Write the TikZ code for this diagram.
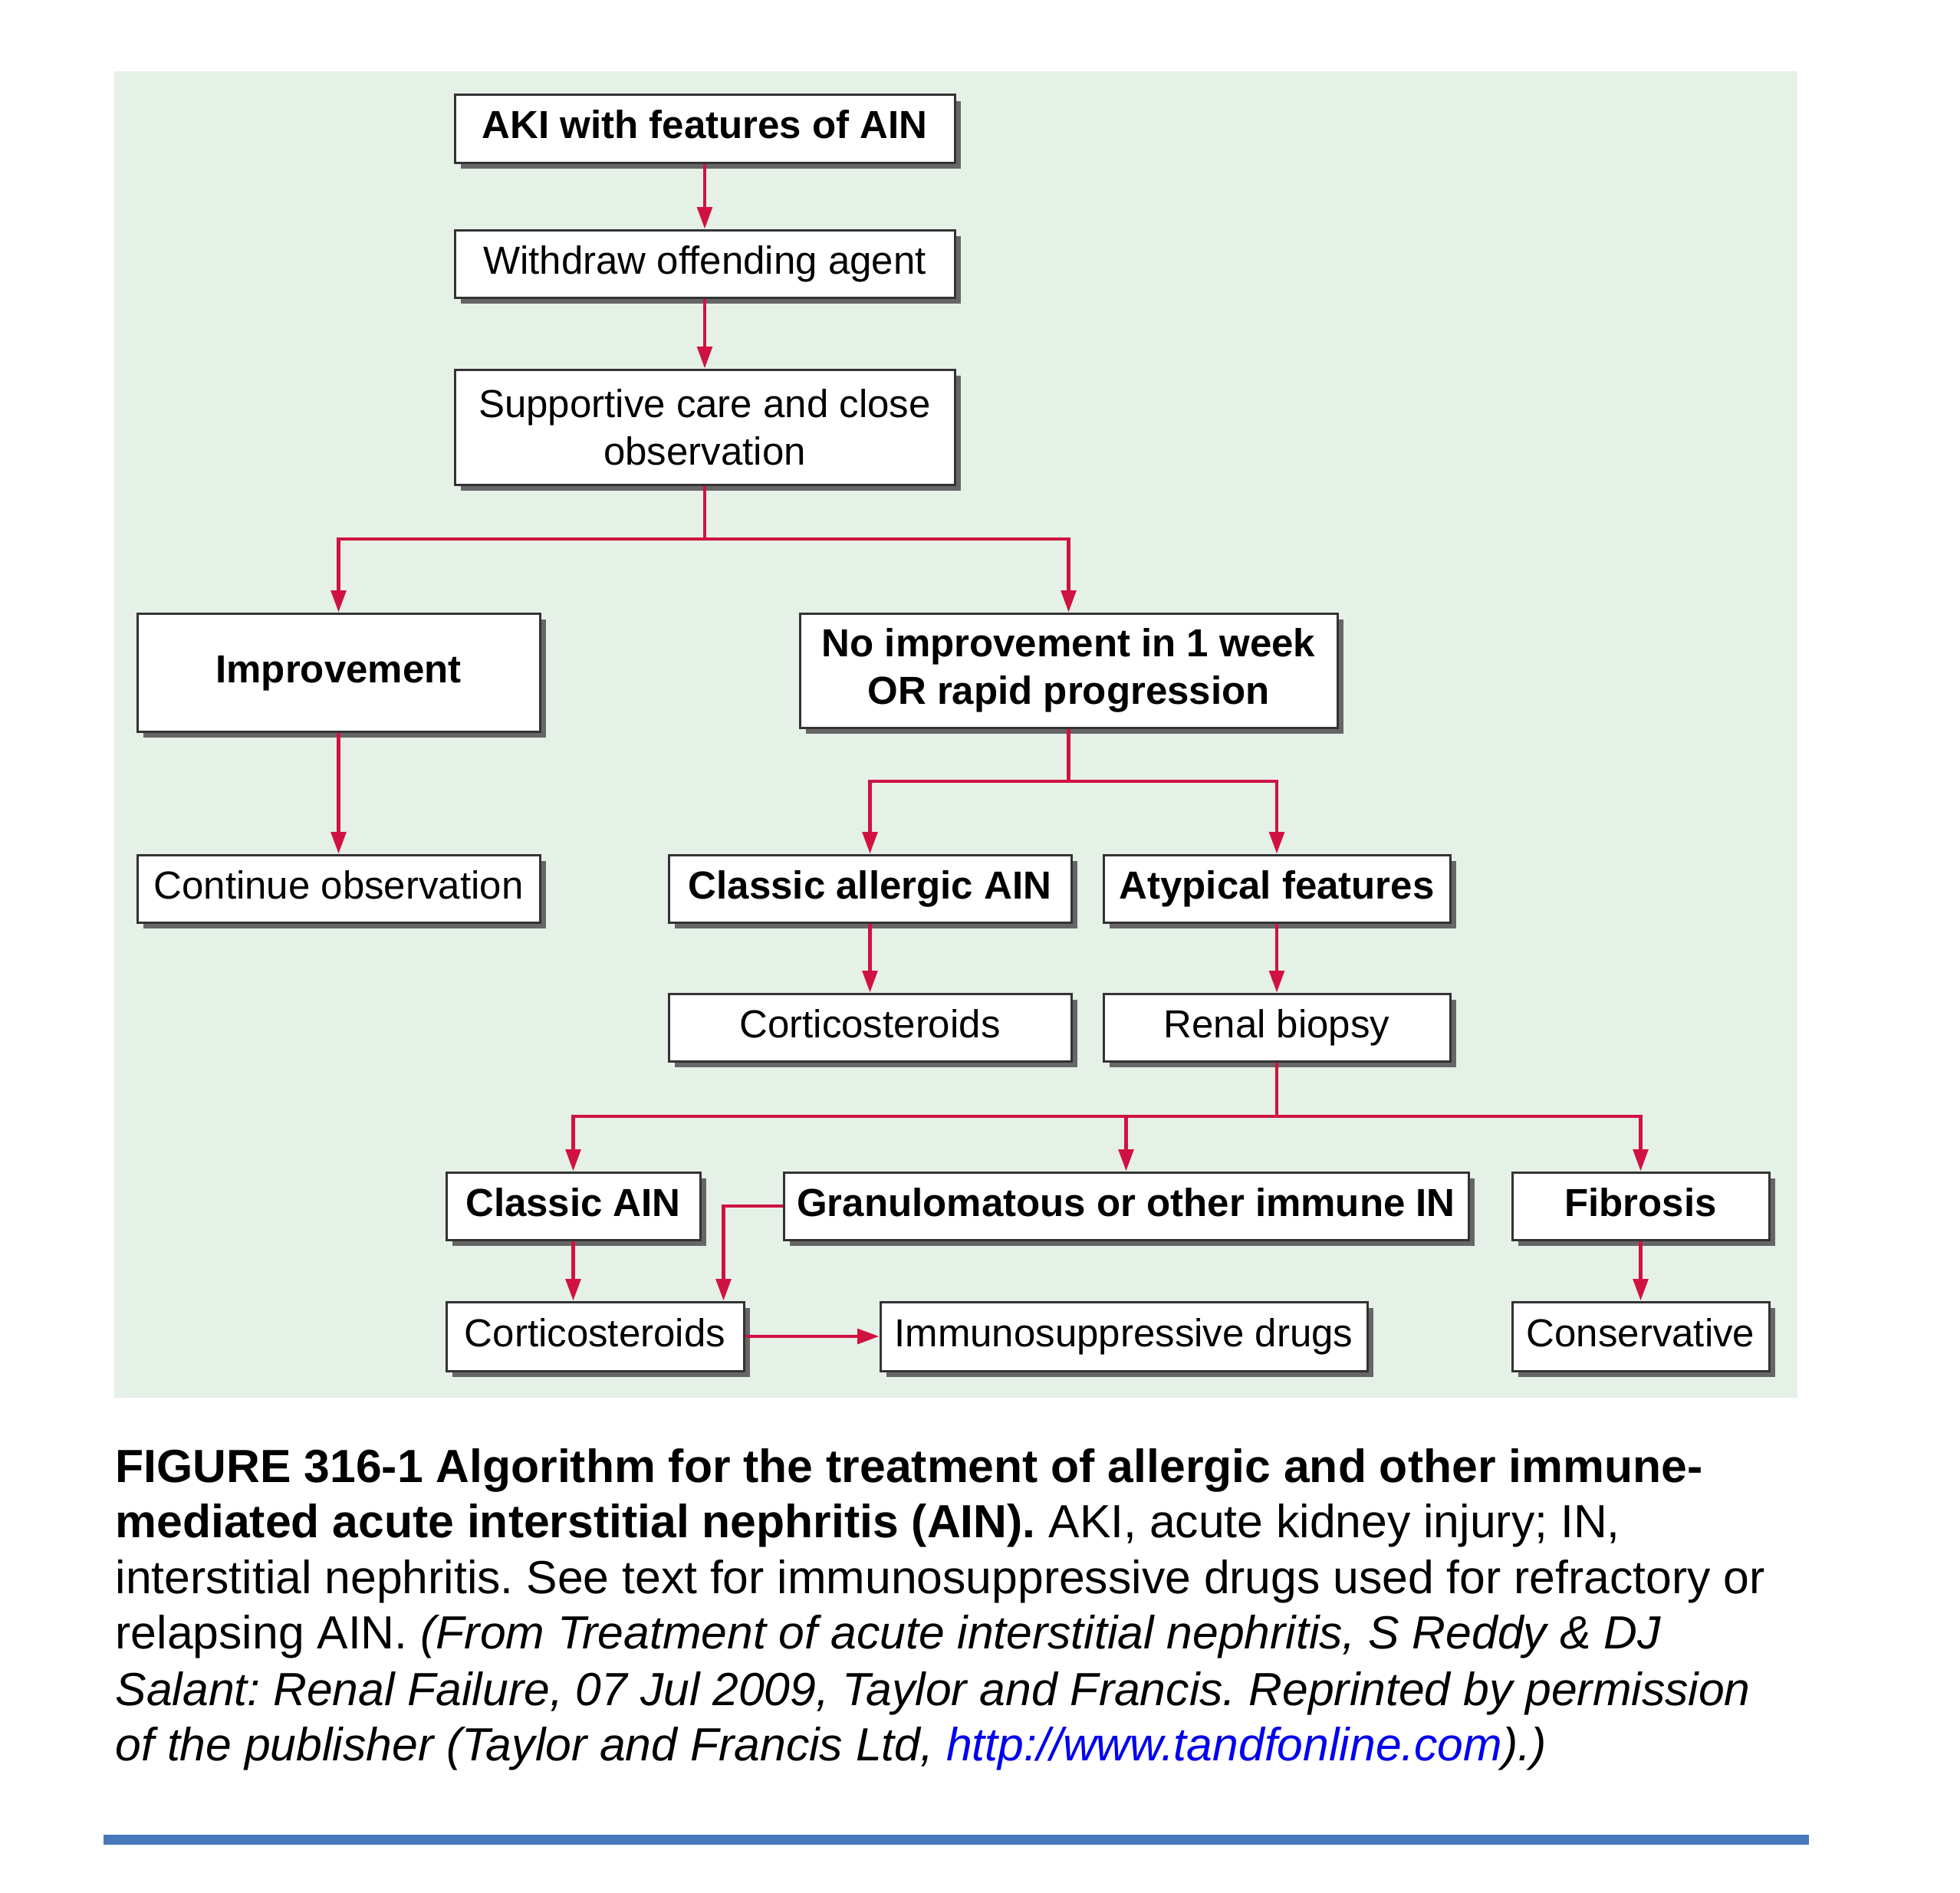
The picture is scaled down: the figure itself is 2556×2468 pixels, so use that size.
\documentclass[tikz,border=0pt]{standalone}
\usepackage{fontspec}
\setmainfont{Liberation Sans}
\usetikzlibrary{arrows.meta,shadows,calc}
\definecolor{bgreen}{RGB}{229,240,231}
\definecolor{arrred}{RGB}{208,18,66}
\definecolor{barblue}{RGB}{70,120,186}
\definecolor{linkblue}{RGB}{0,0,238}
\frenchspacing

\begin{document}
\begin{tikzpicture}[x=0.3pt,y=-0.3pt,
 basebox/.style={draw=black!80, line width=0.9pt, fill=white, inner sep=0pt, align=center,
   drop shadow={shadow xshift=2.3pt, shadow yshift=-2.3pt, fill=black!60, opacity=1}},
 sl/.style={text height=11pt, text depth=3.2pt},
 box/.style={basebox, sl, font=\fontsize{15.3}{18.6}\selectfont},
 bbox/.style={basebox, sl, font=\fontsize{15.3}{18.6}\selectfont\bfseries},
 mbox/.style={basebox, font=\fontsize{15.3}{18.6}\selectfont},
 mbbox/.style={basebox, font=\fontsize{15.3}{18.6}\selectfont\bfseries},
 sz/.style 2 args={minimum width=#1*0.3pt, minimum height=#2*0.3pt},
 conn/.style={draw=arrred, line width=1.3pt},
 arr/.style={conn, -{Triangle[length=8.5pt,width=5.8pt]}},
 captext/.style={anchor=base west, inner sep=0pt, font=\fontsize{18.2}{21.8}\selectfont}
]
\useasboundingbox (0,0) rectangle (2556,2468);
\fill[bgreen] (149,93) rectangle (2344,1823);

% boxes
\node[bbox, sz={652}{88}] (aki) at (919,168) {AKI with features of AIN};
\node[box, sz={652}{88}] (withdraw) at (919,344) {Withdraw offending agent};
\node[mbox, sz={652}{150}] (support) at (919,557) {Supportive care and close\\observation};
\node[bbox, sz={525}{154}] (improve) at (441.5,877) {Improvement};
\node[mbbox, sz={701}{149}] (noimp) at (1393.5,874.5) {No improvement in 1 week\\OR rapid progression};
\node[box, sz={525}{88}] (contobs) at (441.5,1159) {Continue observation};
\node[bbox, sz={525}{88}] (classic) at (1134.5,1159) {Classic allergic AIN};
\node[bbox, sz={452}{88}] (atyp) at (1665,1159) {Atypical features};
\node[box, sz={525}{88}] (cort1) at (1134.5,1340) {Corticosteroids};
\node[box, sz={452}{88}] (biopsy) at (1665,1340) {Renal biopsy};
\node[bbox, sz={331}{88}] (cain) at (747.5,1573) {Classic AIN};
\node[bbox, sz={893}{88}] (gran) at (1468.5,1573) {Granulomatous or other immune IN};
\node[bbox, sz={335}{88}] (fib) at (2139.5,1573) {Fibrosis};
\node[box, sz={388}{90}] (cort2) at (776,1743) {Corticosteroids};
\node[box, sz={635}{90}] (immuno) at (1465.5,1743) {Immunosuppressive drugs};
\node[box, sz={335}{90}] (cons) at (2139.5,1743) {Conservative};

% connectors
\draw[arr] (aki) -- (withdraw);
\draw[arr] (withdraw) -- (support);
\coordinate (j1) at (919,703);
\draw[conn] (support.south) -- (j1);
\draw[arr] (j1) -| (improve.north);
\draw[arr] (j1) -| (noimp.north);
\draw[arr] (improve) -- (contobs);
\coordinate (j2) at (1393.5,1019);
\draw[conn] (noimp.south) -- (j2);
\draw[arr] (j2) -| (classic.north);
\draw[arr] (j2) -| (atyp.north);
\draw[arr] (classic) -- (cort1);
\draw[arr] (atyp) -- (biopsy);
\coordinate (j3) at (1665,1456);
\draw[conn] (biopsy.south) -- (j3);
\draw[arr] (j3) -| (cain.north);
\draw[arr] (j3) -| (gran.north);
\draw[arr] (j3) -| (fib.north);
\draw[arr] (cain.south) -- (cain.south |- cort2.north);
\draw[arr] (gran.west) -| ([xshift=-8.4pt]cort2.north east);
\draw[arr] (cort2) -- (immuno);
\draw[arr] (fib) -- (cons);

% caption
\node[captext] (cap1) at (150,1933) {\bfseries FIGURE 316-1 Algorithm for the treatment of allergic and other immune-};
\node[captext] (cap2) at (150,2005) {\bfseries mediated acute interstitial nephritis (AIN).\mdseries{} AKI, acute kidney injury; IN,};
\node[captext] (cap3) at (150,2078) {interstitial nephritis. See text for immunosuppressive drugs used for refractory or};
\node[captext] (cap4) at (150,2150) {relapsing AIN. \itshape(From Treatment of acute interstitial nephritis, S Reddy \& DJ};
\node[captext] (cap5) at (150,2224) {\itshape Salant: Renal Failure, 07 Jul 2009, Taylor and Francis. Reprinted by permission};
\node[captext] (cap6) at (150,2296) {\itshape of the publisher (Taylor and Francis Ltd, {\color{linkblue}http://www.tandfonline.com}).)};

\fill[barblue] (135,2393) rectangle (2359,2406);
\end{tikzpicture}
\end{document}
